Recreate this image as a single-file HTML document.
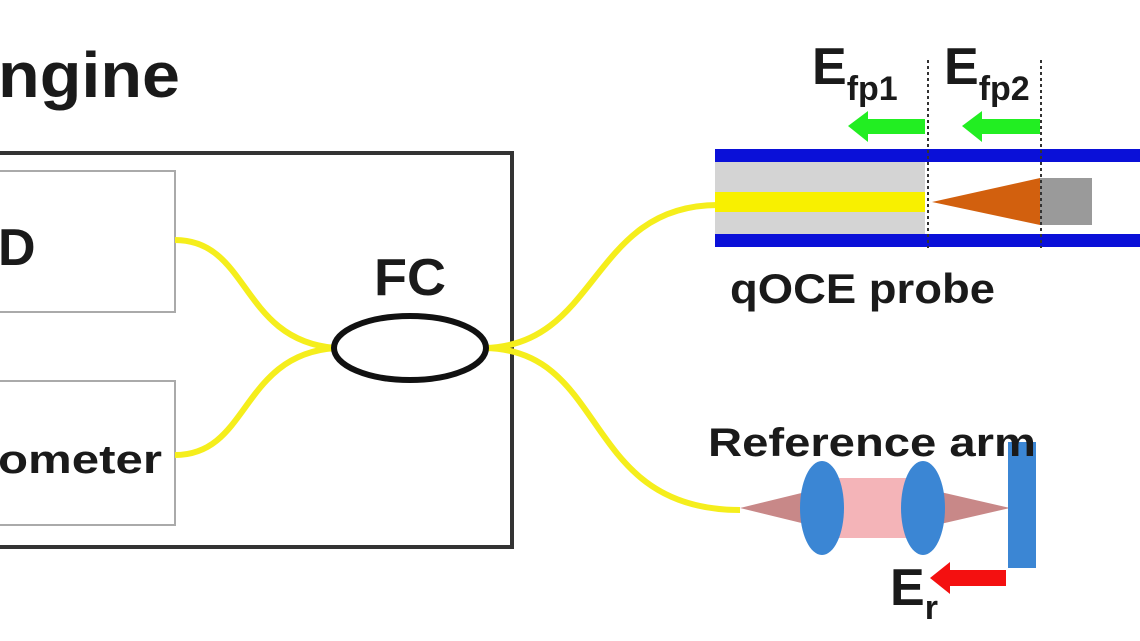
<!DOCTYPE html>
<html><head><meta charset="utf-8"><style>html,body{margin:0;padding:0;background:#fff;}svg{display:block}</style></head>
<body>
<svg width="1140" height="641" viewBox="0 0 1140 641" xmlns="http://www.w3.org/2000/svg" font-family="'Liberation Sans', sans-serif">
<rect width="1140" height="641" fill="#fff"/>
<text x="-2" y="97" font-size="64" font-weight="bold" fill="#1a1a1a" textLength="182" lengthAdjust="spacingAndGlyphs">ngine</text>
<rect x="-10" y="153" width="522" height="394" fill="none" stroke="#333" stroke-width="4"/>
<rect x="-10" y="171" width="185" height="141" fill="none" stroke="#aaa" stroke-width="2"/>
<rect x="-10" y="381" width="185" height="144" fill="none" stroke="#aaa" stroke-width="2"/>
<text x="-2" y="265" font-size="52" font-weight="bold" fill="#1a1a1a">D</text>
<text x="-2" y="473" font-size="40" font-weight="bold" fill="#1a1a1a" textLength="164" lengthAdjust="spacingAndGlyphs">ometer</text>
<g fill="none" stroke="#f5ee1c" stroke-width="6">
<path d="M175,240 C250,240 240,340 335,348"/>
<path d="M175,455 C250,455 240,355 335,348"/>
<path d="M485,348 C600,345 590,205 718,205"/>
<path d="M485,348 C610,350 580,510 740,510"/>
</g>
<ellipse cx="410" cy="348" rx="76" ry="32" fill="none" stroke="#111" stroke-width="6"/>
<text x="374" y="295" font-size="52" font-weight="bold" fill="#1a1a1a" textLength="72" lengthAdjust="spacingAndGlyphs">FC</text>
<rect x="715" y="162" width="210" height="72" fill="#d4d4d4"/>
<rect x="715" y="192" width="210" height="20" fill="#f8f000"/>
<rect x="715" y="149" width="425" height="13" fill="#0a10d8"/>
<rect x="715" y="234" width="425" height="13" fill="#0a10d8"/>
<rect x="1040" y="178" width="52" height="47" fill="#9a9a9a"/>
<polygon points="932,202 1040,178 1040,225" fill="#d2600e"/>
<line x1="928" y1="60" x2="928" y2="248" stroke="#333" stroke-width="2" stroke-dasharray="3,3"/>
<line x1="1041" y1="60" x2="1041" y2="248" stroke="#333" stroke-width="2" stroke-dasharray="3,3"/>
<polygon points="848,126 868,111 868,119 925,119 925,134 868,134 868,142" fill="#22ee22"/>
<polygon points="962,126 982,111 982,119 1040,119 1040,134 982,134 982,142" fill="#22ee22"/>
<text x="812" y="84" font-size="52" font-weight="bold" fill="#1a1a1a">E<tspan font-size="34" dy="16">fp1</tspan></text>
<text x="944" y="84" font-size="52" font-weight="bold" fill="#1a1a1a">E<tspan font-size="34" dy="16">fp2</tspan></text>
<text x="730" y="303" font-size="42" font-weight="bold" fill="#1a1a1a" textLength="265" lengthAdjust="spacingAndGlyphs">qOCE probe</text>
<polygon points="740,508 822,488 822,528" fill="#c88888"/>
<rect x="822" y="478" width="101" height="60" fill="#f4b4b8"/>
<polygon points="923,488 1010,508 923,528" fill="#c88888"/>
<ellipse cx="822" cy="508" rx="22" ry="47" fill="#3b86d4"/>
<ellipse cx="923" cy="508" rx="22" ry="47" fill="#3b86d4"/>
<rect x="1008" y="442" width="28" height="126" fill="#3b86d4"/>
<text x="708" y="456" font-size="40" font-weight="bold" fill="#1a1a1a" textLength="328" lengthAdjust="spacingAndGlyphs">Reference arm</text>
<polygon points="930,578 950,562 950,570 1006,570 1006,586 950,586 950,594" fill="#f41010"/>
<text x="890" y="605" font-size="52" font-weight="bold" fill="#1a1a1a">E<tspan font-size="34" dy="14">r</tspan></text>
</svg>
</body></html>
